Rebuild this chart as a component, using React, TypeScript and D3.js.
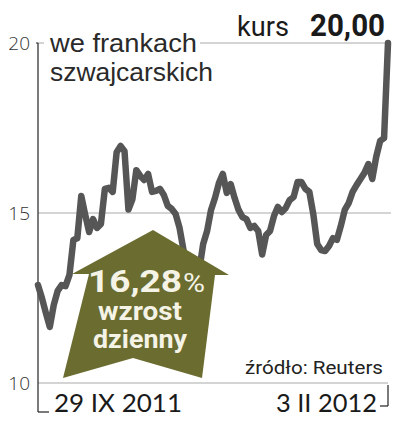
import React from "react";
import * as d3 from "d3";

const values = [
  12.88, 12.5, 12.06, 11.65, 12.29, 12.71, 12.88, 12.85, 13.18, 14.21,
  14.26, 15.5, 14.95, 14.44, 14.82, 14.56, 14.68, 15.71, 15.74, 15.62,
  16.79, 16.97, 16.82, 15.1, 15.4, 16.26, 16.09, 15.97, 16.15, 15.62,
  15.65, 15.71, 15.53, 15.21, 15.12, 14.97, 14.56, 13.91, 13.32, 12.79,
  12.82, 13.32, 14.09, 14.47, 15.09, 15.44, 15.88, 16.15, 15.59, 15.85,
  15.44, 15.09, 14.88, 14.82, 14.56, 14.62, 14.47, 13.78, 14.35, 14.47,
  14.91, 15.18, 15.03, 15.15, 15.38, 15.47, 15.91, 15.91, 15.71, 15.62,
  14.97, 14.09, 13.91, 13.88, 14.03, 14.26, 14.21, 14.62, 15.09, 15.29,
  15.62, 15.82, 16.0, 16.18, 16.44, 16.0, 16.65, 17.12, 17.2, 20.0,
];
const yTicks = [10, 15, 20];
const dateLabels = ["29 IX 2011", "3 II 2012"];
const title = ["we frankach", "szwajcarskich"];
const lastLabel = "kurs";
const lastValue = "20,00";
const changeLabel = "16,28";
const changeLines = ["wzrost", "dzienny"];
const source = "źródło: Reuters";

export default function App() {
  const W = 396, H = 423;
  const x = d3.scaleLinear().domain([0, values.length - 1]).range([38, 388]);
  const y = d3.scaleLinear().domain([10, 20]).range([383, 43]);
  const line = d3
    .line<number>()
    .x((_, i) => x(i))
    .y((d) => y(d))
    .curve(d3.curveLinear);

  const olive = "#6a6c30";
  const txt = "#f4f3e6";
  const arrow = "M153,230 L229,275 L215,275 L202,378 L133,358 L63,378 L89,274 L72,274 Z";
  const narrowBold = "'Liberation Sans Narrow', 'Roboto', 'Liberation Sans', sans-serif";
  const light = "'Open Sans', 'Lato', 'DejaVu Sans', sans-serif";
  const titleFont = "'Liberation Sans', Arial, sans-serif";

  return (
    <svg
      width={W}
      height={H}
      style={{ position: "absolute", left: 0, top: 0, background: "#fff" }}
    >
      <rect width={W} height={H} fill="#fff" />
      {yTicks.map((t) => (
        <g key={t}>
          <line x1={38} x2={t === 15 ? 391 : 388} y1={y(t)} y2={y(t)} stroke="#a9a9a9" strokeWidth={1.2} />
          <text
            x={30}
            y={y(t) + 7}
            textAnchor="end"
            fontFamily={light}
            fontWeight={300}
            fontSize={19}
            fill="#333"
          >
            {t}
          </text>
        </g>
      ))}
      <line x1={36} x2={38} y1={y(20)} y2={y(20)} stroke="#222" strokeWidth={1} />
      <line x1={38} x2={38} y1={y(20)} y2={412} stroke="#222" strokeWidth={1.2} />
      <line x1={38} x2={49} y1={412} y2={412} stroke="#222" strokeWidth={1.2} />
      <line x1={388} x2={388} y1={385} y2={406} stroke="#222" strokeWidth={1.2} />
      <line x1={380} x2={388} y1={406} y2={406} stroke="#222" strokeWidth={1.2} />

      <rect x={44} y={30} width={156} height={26} fill="#fff" />
      <text x={50} y={52} fontFamily={titleFont} fontSize={26} fill="#2a2a2a" textLength={147} lengthAdjust="spacingAndGlyphs">
        {title[0]}
      </text>
      <text x={50} y={81} fontFamily={titleFont} fontSize={26} fill="#2a2a2a" textLength={163} lengthAdjust="spacingAndGlyphs">
        {title[1]}
      </text>

      <text x={237} y={36} fontFamily="'Roboto', 'Liberation Sans', sans-serif" fontSize={27} fill="#1a1a1a" textLength={52} lengthAdjust="spacingAndGlyphs">
        {lastLabel}
      </text>
      <text x={310} y={36} fontFamily={narrowBold} fontWeight={700} fontSize={32} fill="#1a1a1a" textLength={75} lengthAdjust="spacingAndGlyphs">
        {lastValue}
      </text>

      <path
        d={line(values) || ""}
        fill="none"
        stroke="#565656"
        strokeWidth={6.5}
        strokeLinejoin="round"
        strokeLinecap="round"
      />

      <path d={arrow} fill={olive} />
      <text x={88} y={292} fontFamily={narrowBold} fontWeight={700} fontSize={32} fill={txt} textLength={94} lengthAdjust="spacingAndGlyphs">
        {changeLabel}
      </text>
      <text x={183} y={292} fontFamily="'Roboto', 'Liberation Sans', sans-serif" fontSize={26} fill={txt} textLength={22} lengthAdjust="spacingAndGlyphs">
        %
      </text>
      <text x={98} y={320} fontFamily={narrowBold} fontWeight={700} fontSize={25} fill={txt} textLength={84} lengthAdjust="spacingAndGlyphs">
        {changeLines[0]}
      </text>
      <text x={93} y={348} fontFamily={narrowBold} fontWeight={700} fontSize={25} fill={txt} textLength={94} lengthAdjust="spacingAndGlyphs">
        {changeLines[1]}
      </text>

      <text x={245} y={374} fontFamily="'Liberation Sans Narrow', 'Roboto', sans-serif" fontSize={19} fill="#222" textLength={138} lengthAdjust="spacingAndGlyphs">
        {source}
      </text>

      <text x={54} y={412} fontFamily="'Lato', 'Roboto', sans-serif" fontSize={25} fill="#1a1a1a" textLength={128} lengthAdjust="spacingAndGlyphs">
        {dateLabels[0]}
      </text>
      <text x={276} y={412} fontFamily="'Lato', 'Roboto', sans-serif" fontSize={25} fill="#1a1a1a" textLength={101} lengthAdjust="spacingAndGlyphs">
        {dateLabels[1]}
      </text>
    </svg>
  );
}
